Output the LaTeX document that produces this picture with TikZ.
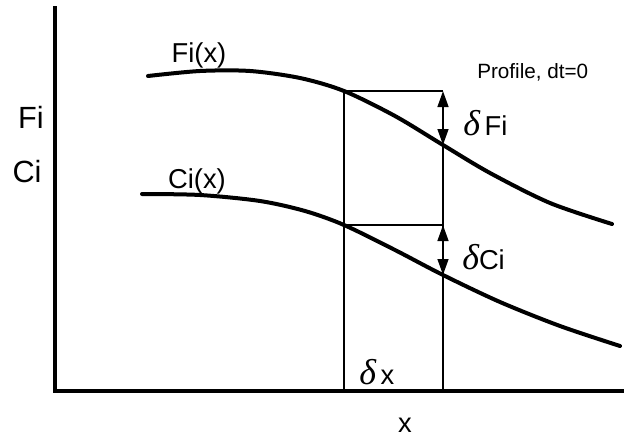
\documentclass[tikz,border=0pt]{standalone}
\usepackage{fontspec}
\setmainfont{Liberation Sans}
\newfontfamily\greekfont{Liberation Serif}
\usetikzlibrary{arrows.meta}

\newcommand{\dlt}{{\greekfont\itshape\fontsize{27}{27}\selectfont δ}}

\begin{document}
\begin{tikzpicture}[x=0.75pt,y=-0.75pt,
    curve/.style={line width=3pt,line cap=round},
    thinline/.style={line width=1.3pt},
    guide/.style={line width=1.8pt},
    dbl/.style={line width=1.8pt,{Triangle[length=12pt,width=8pt]}-{Triangle[length=12pt,width=8pt]}},
    lab/.style={font=\fontsize{20.5}{21}\selectfont,inner sep=0pt}]
  % pixel coordinates of the reference, y runs downwards
  \useasboundingbox (0,0) rectangle (624,439);

  % axes
  \coordinate (top) at (55,6);
  \coordinate (orig) at (55,391);
  \coordinate (xend) at (624,391);
  \draw[line width=2.4pt] (top) -- (orig) -- (xend);

  % points where the two profiles meet the cut lines
  \coordinate (fa) at (344,91);
  \coordinate (fb) at (443,145);
  \coordinate (ca) at (344,225);
  \coordinate (cb) at (443,275);

  % profiles F_i(x) and C_i(x)
  \draw[curve] plot[smooth] coordinates {(148,76) (200,71) (250,71) (300,78) (fa) (395,116) (fb) (490,173) (550,203) (612,224)};
  \draw[curve] plot[smooth] coordinates {(142,194) (200,195) (260,201) (305,211) (ca) (395,250) (cb) (500,302) (560,326) (620,346)};

  % cut lines
  \draw[thinline] (fa) -- (fa |- orig);
  \draw[thinline] (fb) -- (fb |- orig);
  \draw[guide] (fa) -- (fa -| fb);
  \draw[guide] (ca) -- (ca -| cb);

  % jumps
  \draw[dbl] (fa -| fb) -- (fb);
  \draw[dbl] (ca -| cb) -- (cb);

  % labels
  \node[lab] (fxlab) at (199,55) {Fi(x)};
  \node[lab] (cxlab) at (197,181) {Ci(x)};
  \node[lab,font=\fontsize{23}{23}\selectfont] (filab) at (31,117) {Fi};
  \node[lab,font=\fontsize{23}{23}\selectfont] (cilab) at (27,172) {Ci};
  \node[lab,anchor=west,font=\fontsize{15.5}{16}\selectfont] (prof) at (477,72) {Profile, dt=0};
  \node[lab,anchor=west] (dflab) at (463,123) {\dlt\,Fi};
  \node[lab,anchor=west] (dclab) at (462,257) {\dlt Ci};
  \node[lab,anchor=west] (dxlab) at (359,372) {\dlt\,x};
  \node[lab] (xlab) at (405,425) {x};
\end{tikzpicture}
\end{document}
